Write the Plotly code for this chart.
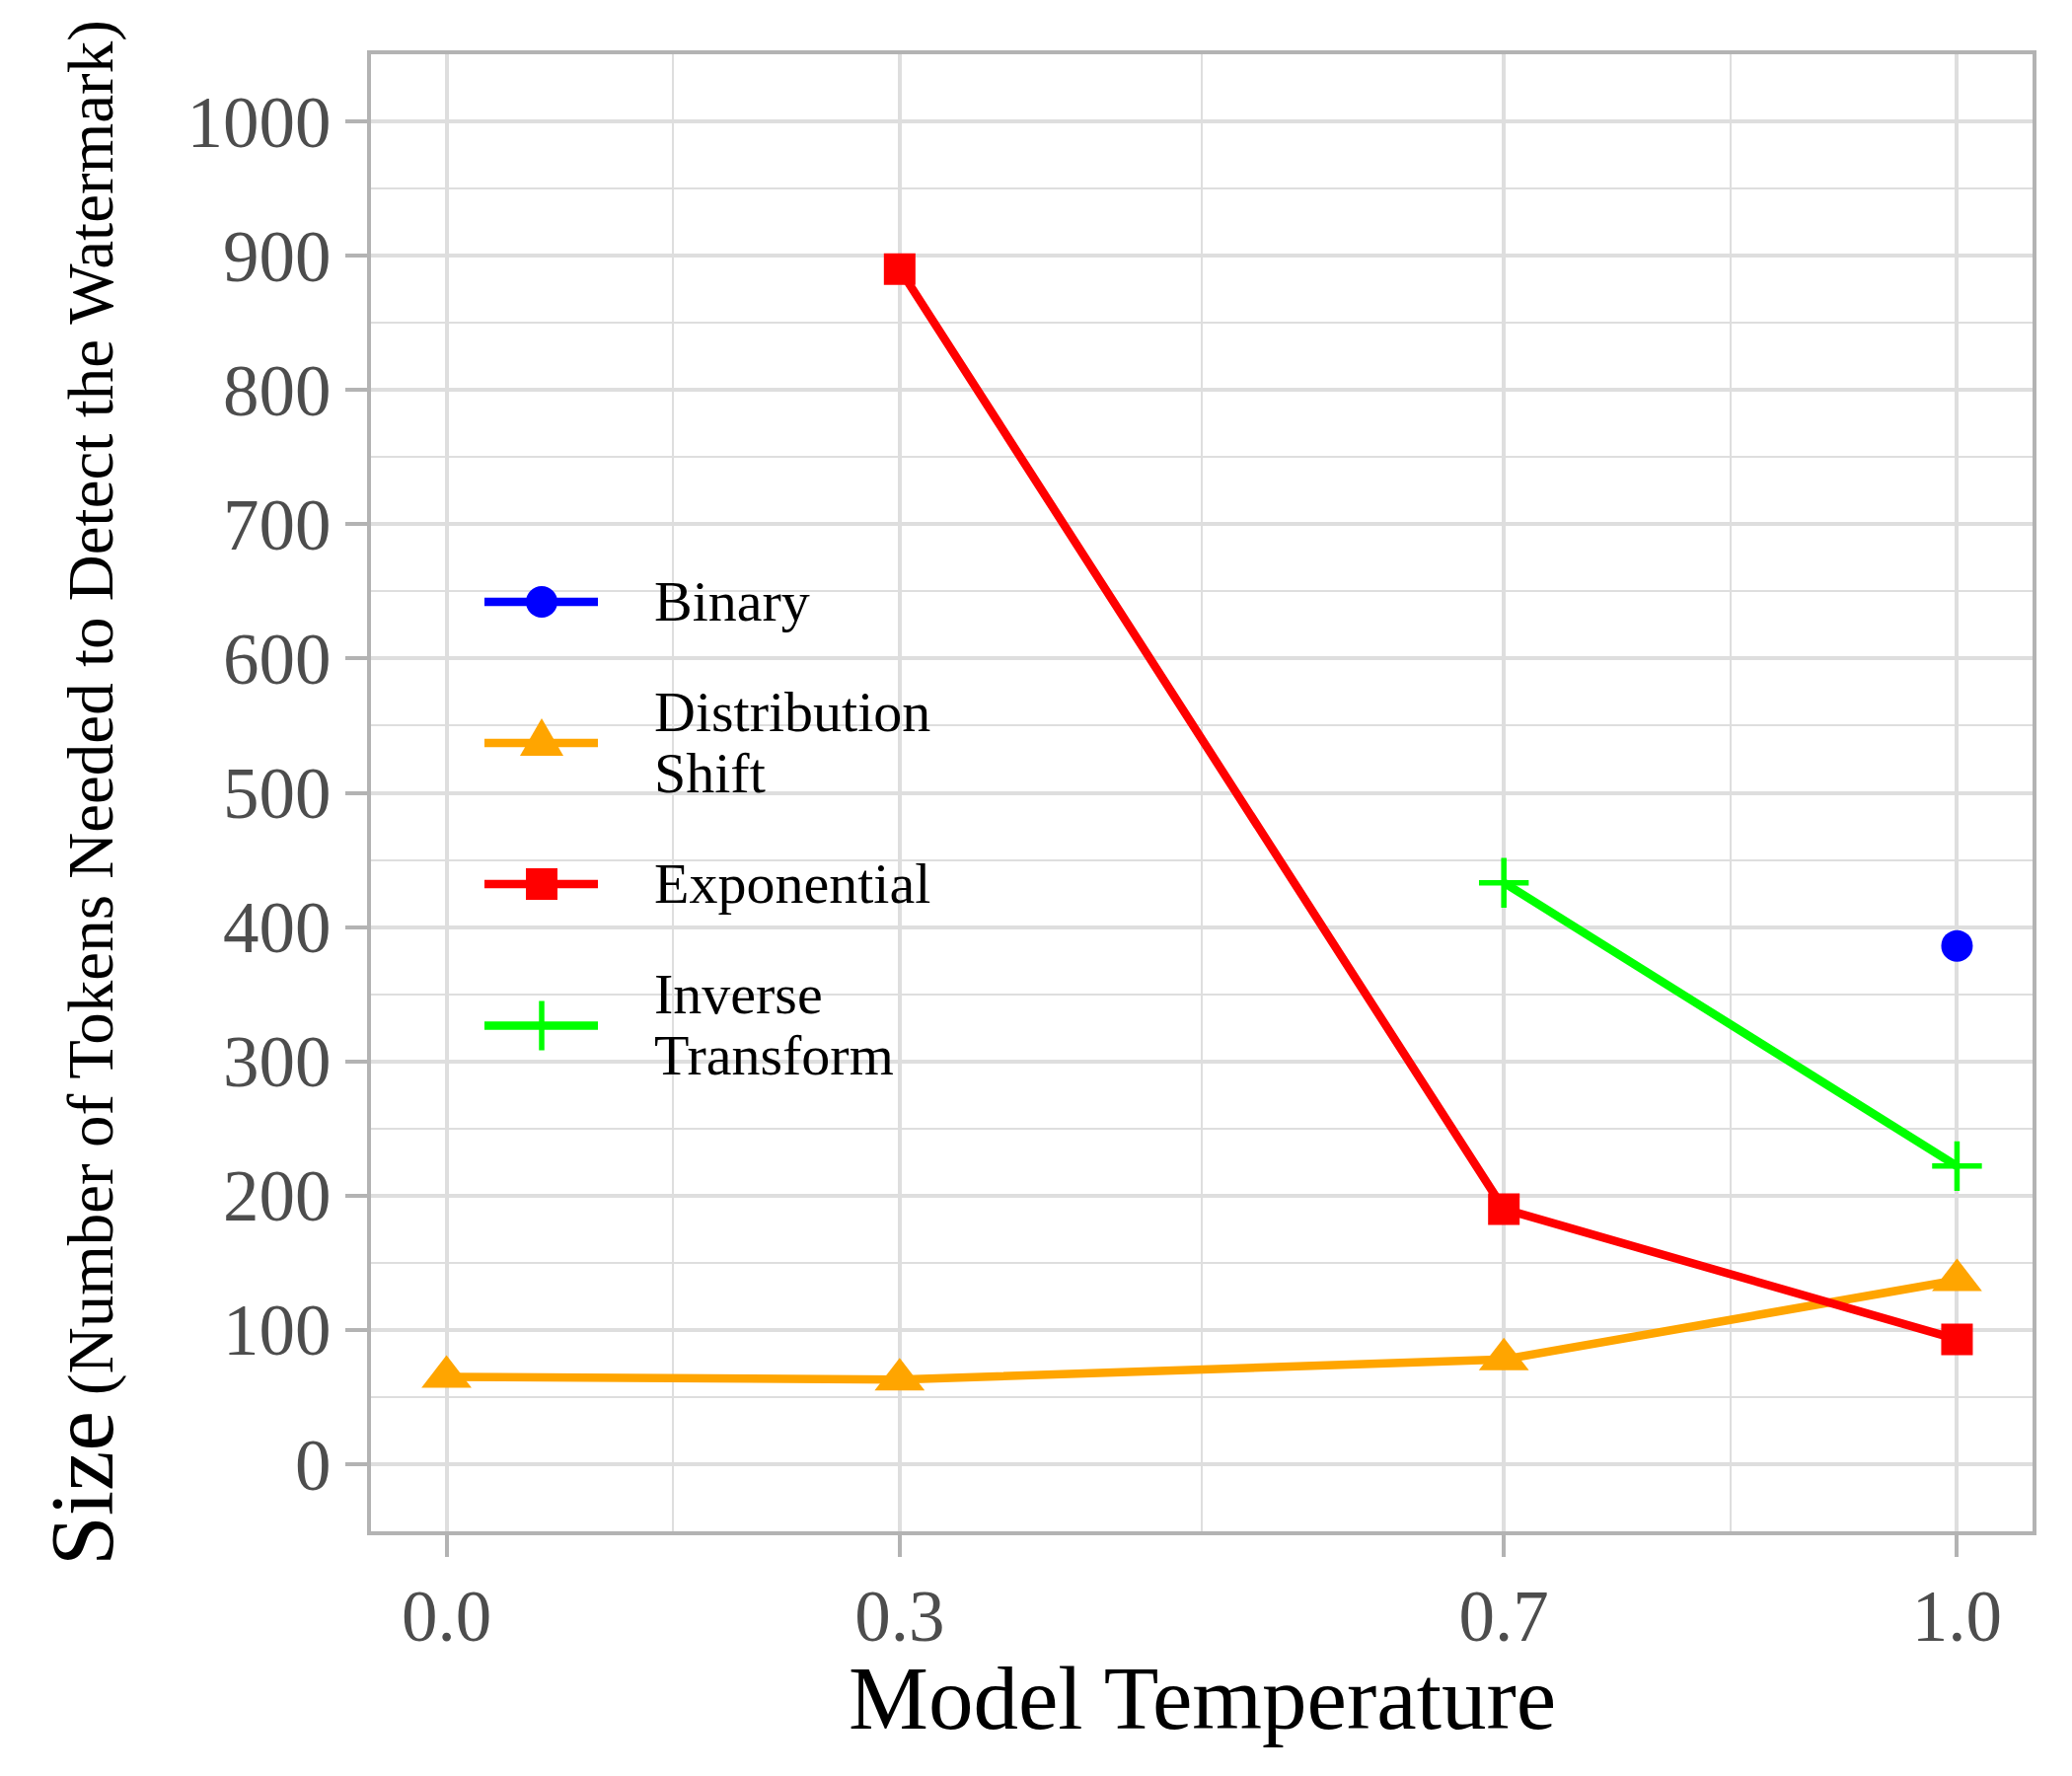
import plotly.graph_objects as go

# ---------------- data ----------------
series_names = ["Binary", "Distribution Shift", "Exponential", "Inverse Transform"]
legend_lines = [["Binary"], ["Distribution", "Shift"], ["Exponential"], ["Inverse", "Transform"]]

binary_x = [1.0]
binary_y = [386]

dist_x = [0.0, 0.3, 0.7, 1.0]
dist_y = [65, 63, 78, 137]

expo_x = [0.3, 0.7, 1.0]
expo_y = [890, 190, 93]

inv_x = [0.7, 1.0]
inv_y = [433, 222]

x_ticks = [0.0, 0.3, 0.7, 1.0]
x_tick_labels = ["0.0", "0.3", "0.7", "1.0"]
y_ticks = [0, 100, 200, 300, 400, 500, 600, 700, 800, 900, 1000]
y_tick_labels = [str(v) for v in y_ticks]

x_title = "Model Temperature"
y_title_main = "Size"
y_title_sub = " (Number of Tokens Needed to Detect the Watermark)"

# ---------------- style ----------------
FONT = "Liberation Serif, Times New Roman, serif"
W, H = 2100, 1800
ML, MR, MT, MB = 368, 48, 47, 256
colors = {"Binary": "#0000FF", "Distribution Shift": "#FFA500",
          "Exponential": "#FF0000", "Inverse Transform": "#00FF00"}
LW = 8.5
GRID = "#DEDEDE"
BORDER = "#B3B3B3"

series = [
    ("Binary", binary_x, binary_y, dict(symbol="circle", size=32)),
    ("Distribution Shift", dist_x, dist_y, dict(symbol="triangle-up", size=44)),
    ("Exponential", expo_x, expo_y, dict(symbol="square", size=32)),
    ("Inverse Transform", inv_x, inv_y, dict(symbol="cross-thin", size=36,
                                              line=dict(width=5.5, color="#00FF00"))),
]

fig = go.Figure()
# lines first (like geom_line), then points
for name, xs, ys, mk in series:
    fig.add_trace(go.Scatter(x=xs, y=ys, mode="lines", name=name,
                             line=dict(color=colors[name], width=LW),
                             showlegend=False, hoverinfo="skip"))
for name, xs, ys, mk in series:
    m = dict(color=colors[name])
    m.update(mk)
    fig.add_trace(go.Scatter(x=xs, y=ys, mode="markers", name=name,
                             marker=m, showlegend=False))

# ---------------- manual legend (pixel-based keys) ----------------
plot_w = W - ML - MR
plot_h = H - MT - MB


def px_x(px):
    return (px - ML) / plot_w


def px_y(py):
    return (H - MB - py) / plot_h


key_x0, key_x1, key_xc = 483, 598, 541
key_ys = [602, 745, 888, 1031.5]
text_x = 653
line_gap = 62

shapes = []
annotations = []
for i, name in enumerate(series_names):
    c = colors[name]
    yk = px_y(key_ys[i])
    shapes.append(dict(type="line", xref="paper", yref="paper",
                       x0=px_x(key_x0), x1=px_x(key_x1), y0=yk, y1=yk,
                       line=dict(color=c, width=LW)))
    base = dict(xref="paper", yref="paper", xsizemode="pixel", ysizemode="pixel",
                xanchor=px_x(key_xc), yanchor=yk)
    if name == "Binary":
        shapes.append(dict(type="circle", x0=-16, x1=16, y0=-16, y1=16,
                           fillcolor=c, line=dict(width=0), **base))
    elif name == "Distribution Shift":
        shapes.append(dict(type="path", path="M-22,-13 L22,-13 L0,25 Z",
                           fillcolor=c, line=dict(width=0), **base))
    elif name == "Exponential":
        shapes.append(dict(type="rect", x0=-16, x1=16, y0=-16, y1=16,
                           fillcolor=c, line=dict(width=0), **base))
    else:
        shapes.append(dict(type="line", x0=0, x1=0, y0=-25, y1=25,
                           line=dict(color=c, width=5.5), **base))
    lines = legend_lines[i]
    n = len(lines)
    for j, t in enumerate(lines):
        cy = key_ys[i] + (j - (n - 1) / 2) * line_gap - 1
        annotations.append(dict(text=t, xref="paper", yref="paper",
                                x=px_x(text_x), y=px_y(cy), xanchor="left",
                                yanchor="middle", showarrow=False,
                                font=dict(family=FONT, size=58, color="black")))

# x-axis title as an annotation for exact vertical placement
annotations.append(dict(text=x_title, xref="paper", yref="paper",
                        x=0.5, y=px_y(1713), xanchor="center", yanchor="middle",
                        showarrow=False,
                        font=dict(family=FONT, size=91, color="black")))

axis_common = dict(
    showline=True, linecolor=BORDER, linewidth=4, mirror=True,
    ticks="outside", ticklen=22, tickwidth=4, tickcolor=BORDER,
    showgrid=True, gridcolor=GRID, gridwidth=3.5,
    zeroline=False,
    tickfont=dict(family=FONT, size=73, color="#4D4D4D"),
)

x_minor = [(a + b) / 2 for a, b in zip(x_ticks[:-1], x_ticks[1:])]

fig.update_layout(
    width=W, height=H,
    margin=dict(l=ML, r=MR, t=MT, b=MB),
    paper_bgcolor="white", plot_bgcolor="white",
    font=dict(family=FONT, color="black"),
    showlegend=False,
    shapes=shapes,
    annotations=annotations,
    xaxis=dict(range=[-0.05, 1.05], tickmode="array", tickvals=x_ticks,
               ticktext=x_tick_labels, ticklabelstandoff=-3,
               minor=dict(tickmode="array", tickvals=x_minor, showgrid=True,
                          gridcolor=GRID, gridwidth=2, ticks=""),
               **axis_common),
    yaxis=dict(range=[-50, 1050], tickmode="array", tickvals=y_ticks,
               ticktext=y_tick_labels,
               minor=dict(dtick=50, tick0=0, showgrid=True, gridcolor=GRID,
                          gridwidth=2, ticks=""),
               title=dict(text=y_title_main + "<span style='font-size:65px'>" + y_title_sub + "</span>",
                          font=dict(family=FONT, size=91, color="black"),
                          standoff=46),
               **axis_common),
)

fig.write_html("out.html")
